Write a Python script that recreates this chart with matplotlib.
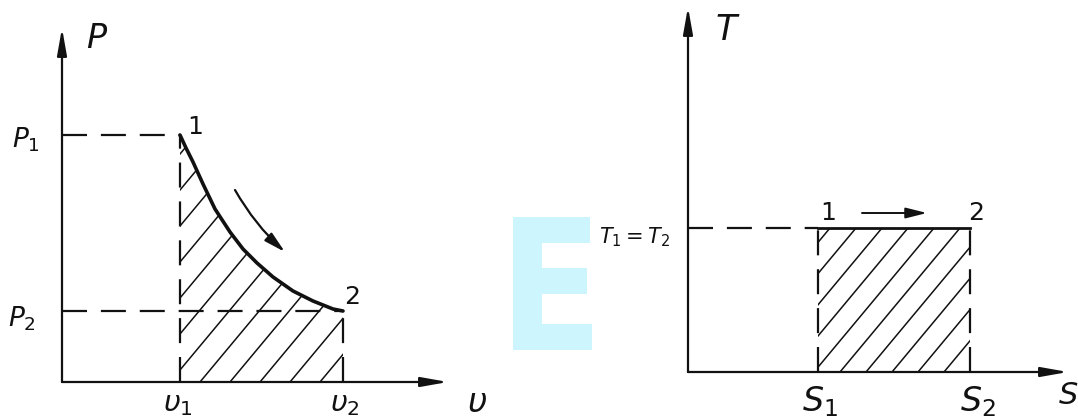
import numpy as np
import matplotlib
matplotlib.use('Agg')
import matplotlib.pyplot as plt
from matplotlib.patches import Polygon, PathPatch
from matplotlib.textpath import TextPath
from matplotlib.font_manager import FontProperties
from matplotlib.transforms import Affine2D, IdentityTransform

plt.rcParams['lines.scale_dashes'] = False
plt.rcParams['mathtext.fontset'] = 'dejavusans'
plt.rcParams['font.family'] = ['DejaVu Sans']

# P-v diagram (isothermal expansion 1 -> 2)
v_curve = [1.18, 1.24, 1.31, 1.41, 1.53, 1.68, 1.81, 1.95, 2.11, 2.31, 2.51, 2.71, 2.81]
p_curve = [2.47, 2.34, 2.20, 1.98, 1.73, 1.50, 1.33, 1.19, 1.05, 0.91, 0.81, 0.73, 0.71]
v1, v2 = 1.18, 2.81
p1, p2 = 2.47, 0.71
v_axis_end, p_axis_end = 3.86, 3.54

# T-s diagram
s1, s2 = 1.30, 2.82
t12 = 1.44
s_axis_end, t_axis_end = 3.80, 3.65

pv_labels = [r'$P$', r'$P_1$', r'$P_2$', r'$\upsilon_1$', r'$\upsilon_2$', r'$\upsilon$']
ts_labels = [r'$T$', r'$T_1 = T_2$', r'$S_1$', r'$S_2$', r'$S$']

dash = (0, (18, 10))
ink = '#111111'


def axis_arrow(ax, x0, y0, x1, y1):
    ax.annotate('', xy=(x1, y1), xytext=(x0, y0),
                arrowprops=dict(arrowstyle='-|>,head_length=0.9,head_width=0.16',
                                lw=1.6, color=ink, shrinkA=0, shrinkB=0,
                                mutation_scale=18))


def hatch(ax, verts, start, step, slope, lw=1.1):
    poly = Polygon(verts, closed=True, fill=False, edgecolor='none')
    ax.add_patch(poly)
    xs = [v[0] for v in verts]
    ys = [v[1] for v in verts]
    h = max(ys) + 1
    c0 = start - step * np.ceil((start - min(xs) + h / slope) / step)
    for c in np.arange(c0, max(xs) + step, step):
        ln, = ax.plot([c, c + h / slope], [0, h], color=ink, lw=lw)
        ln.set_clip_path(poly)


fig = plt.figure(figsize=(10.78, 4.2), dpi=100)

# ---- left panel: P-v ----
ax1 = fig.add_axes([0, 0, 540 / 1078, 1])
ax1.set_xlim(-0.62, 4.78)
ax1.set_ylim(-0.38, 3.82)
ax1.axis('off')

axis_arrow(ax1, 0, 0, 0, p_axis_end)
axis_arrow(ax1, 0, 0, v_axis_end, 0)

pv_verts = [(v1, 0)] + list(zip(v_curve, p_curve)) + [(v2, 0)]
hatch(ax1, pv_verts, 1.38, 0.30, 1.2)

ax1.plot(v_curve, p_curve, color=ink, lw=2.6, solid_capstyle='round', solid_joinstyle='round')
ax1.plot([0, v1], [p1, p1], color=ink, lw=1.6, ls=dash)
ax1.plot([0, v2], [p2, p2], color=ink, lw=1.6, ls=dash)
ax1.plot([v1, v1], [0, p1], color=ink, lw=1.6, ls=dash)
ax1.plot([v2, v2], [0, p2], color=ink, lw=1.6, ls=dash)

ax1.annotate('', xy=(2.23, 1.30), xytext=(1.73, 1.92),
             arrowprops=dict(arrowstyle='-|>,head_length=0.8,head_width=0.2',
                             lw=1.6, color=ink, shrinkA=0, shrinkB=0,
                             connectionstyle='arc3,rad=0.08', mutation_scale=16))

ax1.text(0.35, 3.44, pv_labels[0], fontsize=24, ha='center', va='center', color=ink)
ax1.text(-0.36, 2.42, pv_labels[1], fontsize=19, ha='center', va='center', color=ink)
ax1.text(-0.40, 0.63, pv_labels[2], fontsize=19, ha='center', va='center', color=ink)
ax1.text(v1 - 0.02, -0.22, pv_labels[3], fontsize=21, ha='center', va='center', color=ink)
ax1.text(v2 + 0.02, -0.22, pv_labels[4], fontsize=21, ha='center', va='center', color=ink)
ax1.text(4.15, -0.21, pv_labels[5], fontsize=24, ha='center', va='center', color=ink)
ax1.text(v1 + 0.15, p1 + 0.08, r'$1$', fontsize=18, ha='center', va='center', color=ink)
ax1.text(v2 + 0.09, p2 + 0.14, r'$2$', fontsize=18, ha='center', va='center', color=ink)

# ---- right panel: T-s ----
ax2 = fig.add_axes([540 / 1078, 0, 538 / 1078, 1])
ax2.set_xlim(-1.48, 3.90)
ax2.set_ylim(-0.48, 3.72)
ax2.axis('off')

axis_arrow(ax2, 0, 0, 0, t_axis_end)
axis_arrow(ax2, 0, 0, s_axis_end, 0)

ts_verts = [(s1, 0), (s1, t12), (s2, t12), (s2, 0)]
hatch(ax2, ts_verts, 1.52, 0.26, 1.2)

ax2.plot([s1, s2], [t12, t12], color=ink, lw=2.0)
ax2.plot([0, s1], [t12, t12], color=ink, lw=1.6, ls=dash)
ax2.plot([s1, s1], [0, t12], color=ink, lw=1.6, ls=dash)
ax2.plot([s2, s2], [0, t12], color=ink, lw=1.6, ls=dash)

ax2.annotate('', xy=(2.39, 1.59), xytext=(1.74, 1.59),
             arrowprops=dict(arrowstyle='-|>,head_length=0.8,head_width=0.2',
                             lw=1.4, color=ink, shrinkA=0, shrinkB=0,
                             mutation_scale=16))

ax2.text(0.40, 3.42, ts_labels[0], fontsize=25, ha='center', va='center', color=ink)
ax2.text(-0.18, 1.35, ts_labels[1], fontsize=15, ha='right', va='center', color=ink)
ax2.text(s1 + 0.02, -0.30, ts_labels[2], fontsize=24, ha='center', va='center', color=ink)
ax2.text(s2 + 0.08, -0.30, ts_labels[3], fontsize=24, ha='center', va='center', color=ink)
ax2.text(3.70, -0.24, ts_labels[4], fontsize=22, ha='left', va='center', color=ink)
ax2.text(s1 + 0.10, t12 + 0.15, r'$1$', fontsize=18, ha='center', va='center', color=ink)
ax2.text(s2 + 0.06, t12 + 0.15, r'$2$', fontsize=18, ha='center', va='center', color=ink)

# light cyan "E" watermark between the panels (pixel box 513..592 x 217..350 from top)
tp = TextPath((0, 0), 'E', size=1, prop=FontProperties(family='DejaVu Sans', weight='bold'))
ext = tp.get_extents()
box_w, box_h = 79, 133
x0, y_top = 513, 217
sx = box_w / ext.width
sy = box_h / ext.height
tr = Affine2D().translate(-ext.x0, -ext.y0).scale(sx, sy).translate(x0, 420 - y_top - box_h)
fig.patches.append(PathPatch(tp, transform=tr + IdentityTransform(),
                             facecolor='#ccf5fe', edgecolor='none', figure=fig))

fig.savefig('out.png', dpi=100, facecolor='white')
